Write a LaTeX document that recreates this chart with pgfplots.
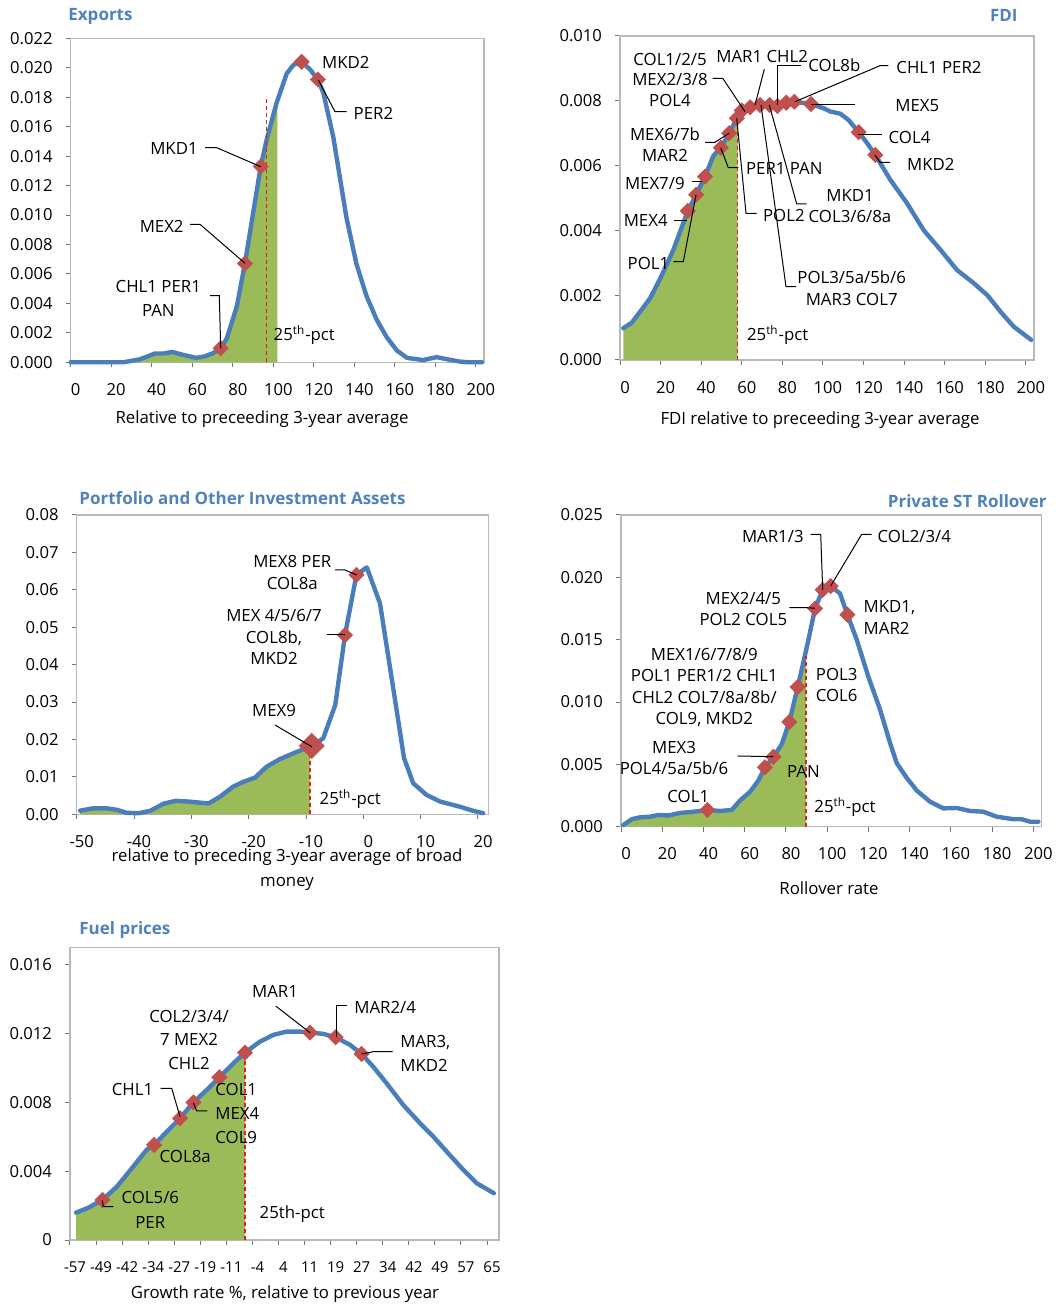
\documentclass[border=0pt]{standalone}
\usepackage{fontspec}
\setmainfont{Open Sans}
\usepackage{pgfplots}
\pgfplotsset{compat=1.18}
\usepackage{pgfplotstable}

\definecolor{curveblue}{RGB}{74,126,187}
\definecolor{titleblue}{RGB}{79,129,189}
\definecolor{areagreen}{RGB}{155,187,89}
\definecolor{markred}{RGB}{192,80,77}
\definecolor{pctred}{RGB}{225,30,30}
\definecolor{framegray}{RGB}{185,185,185}

% ---------- Exports ----------
\pgfplotstableread{
x y
0 0
10 0
20 0
26 0
30 0.0001
34 0.0002
38 0.0004
41.6 0.0006
46 0.0006
50 0.0007
55.6 0.0005
62 0.0003
66 0.0004
70 0.0006
74 0.00095
77 0.0016
82 0.0038
86 0.0067
90 0.0101
93.8 0.0133
96.7 0.0151
101.6 0.0176
106.6 0.0196
110 0.0202
114 0.0204
118 0.0199
122 0.0192
124.7 0.0183
129.6 0.0153
136 0.0099
141 0.0067
146 0.0045
151 0.0029
156 0.0017
161 0.0008
166 0.0003
174 0.00015
180.6 0.00035
186 0.0002
192 0.00005
196 0
203 0
}\expcurve
\pgfplotstableread{
x y
0 0
30 0.0001
34 0.0002
38 0.0004
41.6 0.0006
46 0.0006
50 0.0007
55.6 0.0005
62 0.0003
66 0.0004
70 0.0006
74 0.00095
77 0.0016
82 0.0038
86 0.0067
90 0.0101
93.8 0.0133
96.7 0.0151
101.6 0.0176
102 0.0177
}\exparea
\pgfplotstableread{
x y
74 0.00095
86 0.0067
93.8 0.0133
114 0.0204
122 0.0192
}\expmarks

% ---------- FDI ----------
\pgfplotstableread{
x y
1.6 0.00098
5.8 0.00115
9.9 0.00149
14.8 0.0019
19.7 0.0025
26.3 0.0034
33.4 0.0046
37.5 0.0051
41.9 0.00566
46 0.0063
49.7 0.00655
53.8 0.0070
57.6 0.00746
60 0.0077
64.1 0.0078
69 0.00787
73.7 0.00787
77.6 0.00784
81.9 0.00794
85.9 0.00797
94.1 0.0079
100.3 0.00777
103.6 0.00767
108.6 0.0076
112.7 0.0074
117.6 0.00703
121.7 0.0067
125.8 0.00633
133.2 0.00556
141.4 0.00484
149.7 0.0040
157.9 0.0034
166 0.00278
174.3 0.00237
181 0.0020
187.5 0.00149
194 0.00103
202.6 0.00062
}\fdicurve
\pgfplotstableread{
x y
1.6 0.00098
5.8 0.00115
9.9 0.00149
14.8 0.0019
19.7 0.0025
26.3 0.0034
33.4 0.0046
37.5 0.0051
41.9 0.00566
46 0.0063
49.7 0.00655
53.8 0.0070
57.6 0.00746
58 0.0075
}\fdiarea
\pgfplotstableread{
x y
33.4 0.0046
37.5 0.0051
41.9 0.00566
49.7 0.00655
53.8 0.0070
57.6 0.00746
60 0.0077
64.1 0.0078
69 0.00787
73.7 0.00787
77.6 0.00784
81.9 0.00794
85.9 0.00797
94.1 0.0079
117.6 0.00703
125.8 0.00633
}\fdimarks

% ---------- Portfolio ----------
\pgfplotstableread{
x y
-49.4 0.00098
-47.1 0.0016
-44.8 0.0016
-43 0.0012
-41.3 0.0004
-39.2 0.0003
-37.2 0.0009
-34.9 0.0028
-32.8 0.0036
-30.5 0.0034
-27 0.0029
-25 0.0047
-22.7 0.0074
-20.9 0.0087
-18.9 0.0098
-16.9 0.0127
-14.5 0.0148
-12.2 0.0163
-9 0.0183
-7 0.0203
-4.9 0.0292
-3.2 0.0479
-1.2 0.064
0.6 0.066
2.9 0.0564
4.9 0.0368
7.1 0.015
8.7 0.0083
11 0.0052
13.4 0.0034
16.9 0.002
19.2 0.0009
20.9 0.0003
}\poicurve
\pgfplotstableread{
x y
-49.4 0.00098
-47.1 0.0016
-44.8 0.0016
-43 0.0012
-41.3 0.0004
-39.2 0.0003
-37.2 0.0009
-34.9 0.0028
-32.8 0.0036
-30.5 0.0034
-27 0.0029
-25 0.0047
-22.7 0.0074
-20.9 0.0087
-18.9 0.0098
-16.9 0.0127
-14.5 0.0148
-12.2 0.0163
-9.3 0.0180
}\poiarea
\pgfplotstableread{
x y
-3.2 0.0479
-1.2 0.064
}\poimarks

% ---------- Rollover ----------
\pgfplotstableread{
x y
1.1 0.00013
5.2 0.0006
9.2 0.00075
14.1 0.0008
18.1 0.00094
23 0.0009
28.6 0.0011
35.1 0.0012
41.9 0.00134
48 0.00126
53.7 0.00134
57.7 0.0021
62.6 0.0028
66.6 0.0037
69.8 0.00476
73.9 0.0056
77.9 0.0066
81.6 0.0084
85.7 0.0112
90.1 0.0144
94.1 0.0175
97.8 0.019
101.7 0.0193
106.2 0.0187
109.8 0.0170
114.3 0.0150
120 0.0120
125.6 0.0094
130.5 0.0067
133.7 0.0051
138.6 0.0039
143.4 0.0029
149.9 0.0020
156.3 0.00147
162.8 0.0015
169.3 0.00126
175.7 0.0012
182.2 0.0008
190.3 0.0006
194.3 0.0006
198.4 0.0004
202.4 0.0004
}\rolcurve
\pgfplotstableread{
x y
1.1 0.00013
5.2 0.0006
9.2 0.00075
14.1 0.0008
18.1 0.00094
23 0.0009
28.6 0.0011
35.1 0.0012
41.9 0.00134
48 0.00126
53.7 0.00134
57.7 0.0021
62.6 0.0028
66.6 0.0037
69.8 0.00476
73.9 0.0056
77.9 0.0066
81.6 0.0084
85.7 0.0112
89.7 0.0139
}\rolarea
\pgfplotstableread{
x y
41.9 0.00134
69.8 0.00476
73.9 0.0056
81.6 0.0084
85.7 0.0112
94.1 0.0175
97.8 0.019
101.7 0.0193
109.8 0.0170
}\rolmarks

% ---------- Fuel prices ----------
\pgfplotstableread{
x y
-55.2 0.00159
-51.6 0.00188
-47.5 0.00233
-43.3 0.0031
-38.5 0.00427
-34.6 0.00524
-32.4 0.00553
-28.7 0.0063
-24.8 0.00708
-20.9 0.0080
-17 0.00873
-13.3 0.00946
-9.2 0.01028
-5.8 0.0109
-1.4 0.01154
2.5 0.01193
6.4 0.01212
10.3 0.01212
13.2 0.01206
17.1 0.01199
20.7 0.01179
24.9 0.01135
28.3 0.01082
31.7 0.01008
35.6 0.00912
40.5 0.00785
45.4 0.00679
49.3 0.00601
53.2 0.00514
58.1 0.00407
62 0.0033
67 0.00272
}\fuelcurve
\pgfplotstableread{
x y
-55.2 0.00159
-51.6 0.00188
-47.5 0.00233
-43.3 0.0031
-38.5 0.00427
-34.6 0.00524
-32.4 0.00553
-28.7 0.0063
-24.8 0.00708
-20.9 0.0080
-17 0.00873
-13.3 0.00946
-9.2 0.01028
-5.8 0.0109
}\fuelarea
\pgfplotstableread{
x y
-47.5 0.00233
-32.4 0.00553
-24.8 0.00708
-20.9 0.0080
-13.3 0.00946
-5.8 0.0109
13.2 0.01206
20.7 0.01179
28.3 0.01082
}\fuelmarks

\pgfplotsset{
  kd/.style={
    scale only axis, anchor=south west, clip=false,
    tick pos=left, tick align=outside, major tick length=2.5pt,
    axis line style={draw=framegray, line width=0.6pt},
    tick style={draw=black!55, line width=0.5pt},
    ticklabel style={font=\fontsize{8.3}{10}\selectfont},
    xticklabel style={xshift=2.5pt, yshift=-4.5pt},
    yticklabel style={xshift=-3pt},
    scaled ticks=false,
  },
  curve/.style={curveblue, line width=2.2pt, no marks, line join=round, line cap=round},
  area/.style={fill=areagreen, draw=none},
  dots/.style={only marks, mark=square*, mark size=2.65pt,
    mark options={rotate=45, fill=markred, draw=markred}},
  pct/.style={pctred, line width=0.6pt, dash pattern=on 2pt off 1.5pt},
}

\begin{document}
\begin{tikzpicture}
\path[use as bounding box] (0,0) rectangle (527.5pt,652.5pt);

% Exports
\begin{axis}[kd, at={(35.35pt,471.35pt)}, width=206.65pt, height=162pt,
  xmin=0, xmax=204, ymin=0, ymax=0.022,
  xtick={0,20,40,60,80,100,120,140,160,180,200},
  xticklabels={0,20,40,60,80,100,120,140,160,180,200},
  ytick={0,0.002,0.004,0.006,0.008,0.010,0.012,0.014,0.016,0.018,0.020,0.022},
  yticklabels={0.000,0.002,0.004,0.006,0.008,0.010,0.012,0.014,0.016,0.018,0.020,0.022}]
\addplot[area] table {\exparea} \closedcycle;
\addplot[curve] table {\expcurve};
\addplot[pct] coordinates {(96.5,0) (96.5,0.0179)};
\addplot[dots] table {\expmarks};
\end{axis}

% FDI
\begin{axis}[kd, at={(310pt,472.5pt)}, width=207pt, height=162pt,
  xmin=0, xmax=204, ymin=0, ymax=0.010,
  xtick={0,20,40,60,80,100,120,140,160,180,200},
  xticklabels={0,20,40,60,80,100,120,140,160,180,200},
  ytick={0,0.002,0.004,0.006,0.008,0.010},
  yticklabels={0.000,0.002,0.004,0.006,0.008,0.010}]
\addplot[area] table {\fdiarea} \closedcycle;
\addplot[curve] table {\fdicurve};
\addplot[pct] coordinates {(58,0) (58,0.0073)};
\addplot[dots] table {\fdimarks};
\end{axis}

% Portfolio and other investment assets
\begin{axis}[kd, at={(38.35pt,245.35pt)}, width=205.8pt, height=149.65pt,
  xmin=-50, xmax=21.8, ymin=0, ymax=0.08,
  xtick={-50,-40,-30,-20,-10,0,10,20},
  xticklabels={-50,-40,-30,-20,-10,0,10,20},
  ytick={0,0.01,0.02,0.03,0.04,0.05,0.06,0.07,0.08},
  yticklabels={0.00,0.01,0.02,0.03,0.04,0.05,0.06,0.07,0.08}]
\addplot[area] table {\poiarea} \closedcycle;
\addplot[curve] table {\poicurve};
\addplot[pct] coordinates {(-9.3,0) (-9.3,0.018)};
\addplot[dots] table {\poimarks};
\addplot[dots, mark size=4.4pt] coordinates {(-9,0.0183)};
\end{axis}

% Private ST rollover
\begin{axis}[kd, at={(310.5pt,239.15pt)}, width=210.35pt, height=155.85pt,
  xmin=0, xmax=204, ymin=0, ymax=0.025,
  xtick={0,20,40,60,80,100,120,140,160,180,200},
  xticklabels={0,20,40,60,80,100,120,140,160,180,200},
  ytick={0,0.005,0.010,0.015,0.020,0.025},
  yticklabels={0.000,0.005,0.010,0.015,0.020,0.025}]
\addplot[area] table {\rolarea} \closedcycle;
\addplot[curve] table {\rolcurve};
\addplot[pct] coordinates {(89.7,0) (89.7,0.0137)};
\addplot[dots] table {\rolmarks};
\end{axis}

% Fuel prices
\begin{axis}[kd, at={(35pt,32.5pt)}, width=214.5pt, height=146.15pt,
  xmin=-57, xmax=68.5, ymin=0, ymax=0.017,
  xtick={-57,-49.375,-41.75,-34.125,-26.5,-18.875,-11.25,-3.625,4,11.625,19.25,26.875,34.5,42.125,49.75,57.375,65},
  xticklabels={-57,-49,-42,-34,-27,-19,-11,-4,4,11,19,27,34,42,49,57,65},
  xticklabel style={font=\fontsize{7.5}{9}\selectfont, yshift=-0.5pt},
  ytick={0,0.004,0.008,0.012,0.016},
  yticklabels={0,0.004,0.008,0.012,0.016}]
\addplot[area] table {\fuelarea} \closedcycle;
\addplot[curve] table {\fuelcurve};
\addplot[pct] coordinates {(-5.8,0) (-5.8,0.0109)};
\addplot[dots] table {\fuelmarks};
\end{axis}

% annotations, in pixel units of the reference (origin top left)
\begin{scope}[x=0.5pt, y=-0.5pt, yshift=652.5pt,
  every node/.style={inner sep=0pt, font=\fontsize{8.4}{10.5}\selectfont},
  lead/.style={draw=black, line width=0.5pt}]
% titles
\begin{scope}[every node/.append style={font=\bfseries\fontsize{8.5}{10}\selectfont, text=titleblue}]
\node[anchor=west] at (68,16) {Exports};
\node[anchor=east] at (1018,15) {FDI};
\node[anchor=west] at (79,498) {Portfolio and Other Investment Assets};
\node[anchor=east] at (1047,501) {Private ST Rollover};
\node[anchor=west] at (79,930) {Fuel prices};
\end{scope}
% axis titles
\node at (262,419) {Relative to preceeding 3-year average};
\node at (820,420) {FDI relative to preceeding 3-year average};
\node[align=center, font=\fontsize{8.4}{12.5}\selectfont] at (287,870) {relative to preceding 3-year average of broad\\money};
\node at (829,888) {Rollover rate};
\node at (285,1294) {Growth rate \%, relative to previous year};

% Exports labels
\node[anchor=west] at (321.7,62.7) {MKD2};
\node[anchor=west] at (353.3,113.3) {PER2};
\draw[lead] (318.3,80) -- (335,111.7) -- (346.7,111.7);
\node[anchor=east] at (198,149) {MKD1};
\draw[lead] (205,147.7) -- (216.7,147.7) -- (260.7,166.7);
\node[anchor=east] at (184,226.7) {MEX2};
\draw[lead] (190,224.3) -- (200,224.3) -- (245,263.3);
\node[align=center, font=\fontsize{8.4}{12.3}\selectfont] at (158.3,298.3) {CHL1 PER1\\PAN};
\draw[lead] (210,295.7) -- (219.3,295.7) -- (220.7,348.3);
\node[anchor=west] at (273.3,335) {25\textsuperscript{th}-pct};

% FDI labels
\node[align=center, font=\fontsize{8.4}{10.3}\selectfont] at (670,80) {COL1/2/5\\MEX2/3/8\\POL4};
\draw[lead] (712.7,78.3) -- (722.7,78.3) -- (745,111.7);
\node[anchor=west] at (716,56.7) {MAR1 CHL2};
\draw[lead] (764.3,69.3) -- (755,105);
\node[anchor=west] at (808,65.7) {COL8b};
\draw[lead] (801,65.7) -- (777.7,65.7) -- (777.7,105);
\node[anchor=west] at (896,67.7) {CHL1 PER2};
\draw[lead] (888.3,65.7) -- (880,65.7) -- (795,101.7);
\node[anchor=west] at (895,105.7) {MEX5};
\draw[lead] (810.7,104.3) -- (855,104.3);
\node[anchor=west] at (888.3,137.3) {COL4};
\draw[lead] (858.3,135) -- (881.7,135);
\node[anchor=west] at (906.7,164.3) {MKD2};
\draw[lead] (875,155) -- (880,162.3) -- (890,162.3);
\node[align=center, font=\fontsize{8.4}{10.3}\selectfont] at (665,144.7) {MEX6/7b\\MAR2};
\draw[lead] (705,142.3) -- (715,142.3) -- (729,133.3);
\node[anchor=west] at (745.7,168.3) {PER1 PAN};
\draw[lead] (720.7,147.7) -- (728.3,167.7) -- (738.3,167.7);
\node[anchor=east] at (685,183.3) {MEX7/9};
\draw[lead] (691.7,181.7) -- (701.7,181.7);
\node[align=center, font=\fontsize{8.4}{10.5}\selectfont] at (850,206) {MKD1\\COL3/6/8a};
\draw[lead] (769.3,105) -- (796.7,204) -- (806.7,204);
\node[anchor=west] at (762.7,215.7) {POL2};
\draw[lead] (736.7,118.3) -- (746,213.3) -- (756.7,213.3);
\node[anchor=east] at (668,220.7) {MEX4};
\draw[lead] (674.3,220.7) -- (686.7,220.7);
\node[anchor=west] at (627.3,263.3) {POL1};
\draw[lead] (696,195) -- (683.3,261.7) -- (673.3,261.7);
\node[align=center, font=\fontsize{8.4}{10.8}\selectfont] at (851.7,288.5) {POL3/5a/5b/6\\MAR3 COL7};
\draw[lead] (761,105) -- (786,286.7) -- (796,286.7);
\node[anchor=west] at (746.7,335) {25\textsuperscript{th}-pct};

% Portfolio labels
\node[align=center, font=\fontsize{8.4}{11}\selectfont] at (292.3,572.8) {MEX8 PER\\COL8a};
\draw[lead] (335,570) -- (345,570) -- (356.7,575);
\node[align=center, font=\fontsize{8.4}{10.6}\selectfont] at (274,637) {MEX 4/5/6/7\\COL8b,\\MKD2};
\draw[lead] (326.7,635) -- (345,635);
\node at (274,711) {MEX9};
\draw[lead] (275,725) -- (311.7,746.7);
\node[anchor=west] at (319.3,799.3) {25\textsuperscript{th}-pct};

% Rollover labels
\node[anchor=east] at (804,536.7) {MAR1/3};
\draw[lead] (810.7,534.3) -- (820.7,534.3) -- (822.7,590);
\node[anchor=west] at (877.3,536.7) {COL2/3/4};
\draw[lead] (871.7,534.3) -- (861.7,534.3) -- (830.7,586);
\node[align=center, font=\fontsize{8.4}{10.8}\selectfont] at (743.3,609.2) {MEX2/4/5\\POL2 COL5};
\draw[lead] (789.3,607.7) -- (806.7,607.7) -- (815,608.3);
\node[align=left, anchor=west, font=\fontsize{8.4}{10.8}\selectfont] at (863.3,617.5) {MKD1,\\MAR2};
\node[align=center, font=\fontsize{8.4}{10.6}\selectfont] at (704.3,687.5) {MEX1/6/7/8/9\\POL1 PER1/2 CHL1\\CHL2 COL7/8a/8b/\\COL9, MKD2};
\node[align=center, font=\fontsize{8.4}{10.8}\selectfont] at (836.7,685.2) {POL3\\COL6};
\node[align=center, font=\fontsize{8.4}{10.4}\selectfont] at (674,758) {MEX3\\POL4/5a/5b/6};
\draw[lead] (737.7,756) -- (773.3,756.7);
\node[anchor=west] at (786.7,771) {PAN};
\node at (688.3,796.7) {COL1};
\node[anchor=west] at (814,807.3) {25\textsuperscript{th}-pct};

% Fuel labels
\node[anchor=west] at (251.7,991.7) {MAR1};
\draw[lead] (275.7,1006) -- (310,1032.7);
\node[anchor=west] at (354,1007.7) {MAR2/4};
\draw[lead] (346.7,1006) -- (336,1006) -- (336,1037.3);
\node[align=center, font=\fontsize{8.4}{11.8}\selectfont] at (189,1039.7) {COL2/3/4/\\7 MEX2\\CHL2};
\node[align=left, anchor=west, font=\fontsize{8.4}{12}\selectfont] at (400,1053) {MAR3,\\MKD2};
\draw[lead] (392.7,1051.7) -- (373.3,1051.7) -- (361.7,1054);
\node[anchor=east] at (153.5,1090) {CHL1};
\draw[lead] (160.7,1088.3) -- (171.7,1088.3) -- (180,1116.7);
\node[align=left, anchor=west, font=\fontsize{8.4}{12.1}\selectfont] at (215,1113.5) {COL1\\MEX4\\COL9};
\draw[lead] (193.3,1102.7) -- (196.7,1111) -- (207.3,1111);
\node[anchor=west] at (159.3,1156) {COL8a};
\node[align=center, font=\fontsize{8.4}{12.3}\selectfont] at (150.3,1210) {COL5/6\\PER};
\draw[lead] (102.3,1200) -- (103.3,1206.7) -- (113.3,1206.7);
\node[anchor=west] at (259.3,1214) {25th-pct};
\end{scope}
\end{tikzpicture}
\end{document}
